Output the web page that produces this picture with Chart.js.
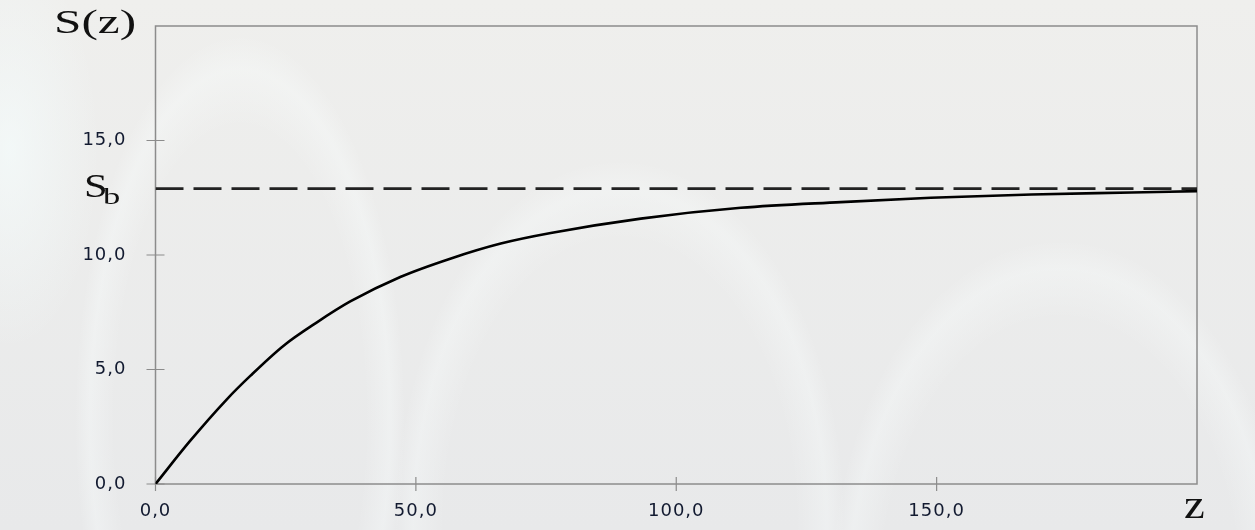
<!DOCTYPE html>
<html>
<head>
<meta charset="utf-8">
<script src="https://cdn.jsdelivr.net/npm/chart.js@4"></script>
<style>
  body {
    margin: 0;
    width: 1255px;
    height: 530px;
    overflow: hidden;
    background:
      radial-gradient(165px 385px at 240px 420px, rgba(0,0,0,0) 76%, rgba(250,254,254,0.32) 91%, rgba(0,0,0,0) 100%),
      radial-gradient(225px 365px at 620px 525px, rgba(0,0,0,0) 78%, rgba(250,254,254,0.3) 92%, rgba(0,0,0,0) 100%),
      radial-gradient(230px 360px at 1060px 600px, rgba(0,0,0,0) 78%, rgba(250,254,254,0.3) 92%, rgba(0,0,0,0) 100%),
      radial-gradient(90px 200px at 10px 150px, rgba(245,252,252,0.7), rgba(0,0,0,0)),
      linear-gradient(#efefed, #e8e9ea);
  }
  #wrap { position: absolute; left: 0; top: 0; width: 1255px; height: 530px; }
</style>
</head>
<body>
<div id="wrap"><canvas id="myChart" width="1255" height="530"></canvas></div>
<script>
// values
const zValues = [0, 6.6, 13.7, 18.2, 24.6, 31.0, 37.4, 47.0, 56.6, 66.3, 75.9, 93.2, 112.4, 131.6, 148.9, 168.2, 187.4, 200];
const sValues = [0, 1.87, 3.70, 4.72, 6.04, 7.06, 7.97, 9.04, 9.84, 10.5, 10.96, 11.59, 12.06, 12.31, 12.5, 12.64, 12.73, 12.79];
const sbZ = [0, 200];
const sbValue = 12.9;
const xTicks = [0, 50, 100, 150];
const yTicks = [0, 5, 10, 15];

const axisGray = '#8c8c8c';
const labelColor = '#121a30';

function fmt(v) {
  return Number(v).toFixed(1).replace('.', ',');
}

// frame, crossing tick marks and the S(z), Sb, z labels
const decorPlugin = {
  id: 'decor',
  beforeDraw(chart) {
    chart.ctx.letterSpacing = '1px';
  },
  beforeDatasetsDraw(chart) {
    const ctx = chart.ctx;
    const a = chart.chartArea;
    const xs = chart.scales.x;
    const ys = chart.scales.y;
    ctx.save();
    ctx.strokeStyle = axisGray;
    ctx.lineWidth = 1.5;
    ctx.strokeRect(a.left, a.top, a.right - a.left, a.bottom - a.top);
    ctx.lineWidth = 1.2;
    ctx.beginPath();
    xTicks.forEach((v) => {
      const px = xs.getPixelForValue(v);
      ctx.moveTo(px, a.bottom - 7);
      ctx.lineTo(px, a.bottom + 7);
    });
    yTicks.forEach((v) => {
      const py = ys.getPixelForValue(v);
      ctx.moveTo(a.left - 9, py);
      ctx.lineTo(a.left + 9, py);
    });
    ctx.stroke();
    ctx.restore();
  },
  afterDraw(chart) {
    const ctx = chart.ctx;
    const xs = chart.scales.x;
    const ys = chart.scales.y;
    ctx.save();
    ctx.letterSpacing = '0px';
    ctx.fillStyle = '#111111';
    ctx.textBaseline = 'alphabetic';

    // S(z)
    ctx.save();
    ctx.translate(54, 33);
    ctx.scale(1.45, 1);
    ctx.font = '34px "Liberation Serif"';
    ctx.fillText('S(z)', 0, 0);
    ctx.restore();

    // S_b at the asymptote value
    const py = ys.getPixelForValue(sbValue);
    ctx.save();
    ctx.translate(84, py + 8);
    ctx.scale(1.25, 1);
    ctx.font = '34px "Liberation Serif"';
    ctx.fillText('S', 0, 0);
    ctx.restore();
    ctx.save();
    ctx.translate(103, py + 15);
    ctx.scale(1.5, 1);
    ctx.font = '23px "Liberation Serif"';
    ctx.fillText('b', 0, 0);
    ctx.restore();

    // z at the end of the x axis
    const px = xs.getPixelForValue(xs.max);
    ctx.save();
    ctx.translate(px - 13, 518);
    ctx.scale(1.2, 1);
    ctx.font = '39px "Liberation Serif"';
    ctx.fillText('z', 0, 0);
    ctx.restore();

    ctx.restore();
  }
};

const tickFont = { family: '"DejaVu Sans"', size: 18 };

const config = {
  type: 'line',
  data: {
    datasets: [
      {
        label: 'S(z)',
        data: zValues.map((z, i) => ({ x: z, y: sValues[i] })),
        borderColor: '#000000',
        borderWidth: 2.6,
        cubicInterpolationMode: 'monotone',
        pointRadius: 0,
        fill: false
      },
      {
        label: 'Sb',
        data: sbZ.map((z) => ({ x: z, y: sbValue })),
        borderColor: '#222222',
        borderWidth: 2.8,
        borderDash: [28, 10],
        pointRadius: 0,
        fill: false
      }
    ]
  },
  options: {
    responsive: false,
    animation: false,
    layout: { padding: { top: 26, right: 58, left: 0, bottom: 0 } },
    plugins: {
      legend: { display: false },
      tooltip: { enabled: false }
    },
    scales: {
      x: {
        type: 'linear',
        min: 0,
        max: 200,
        grid: { display: false },
        border: { display: false },
        afterBuildTicks: (scale) => { scale.ticks = xTicks.map((v) => ({ value: v })); },
        afterFit: (scale) => {
          scale.height = 46;
          scale.paddingLeft = 0;
          scale.paddingRight = 0;
        },
        ticks: {
          font: tickFont,
          color: labelColor,
          padding: 9,
          maxRotation: 0,
          callback: (v) => fmt(v)
        }
      },
      y: {
        type: 'linear',
        min: 0,
        max: 20,
        grid: { display: false },
        border: { display: false },
        afterBuildTicks: (scale) => { scale.ticks = yTicks.map((v) => ({ value: v })); },
        afterFit: (scale) => {
          scale.width = 155.5;
          scale.paddingTop = 0;
          scale.paddingBottom = 0;
        },
        ticks: {
          font: tickFont,
          color: labelColor,
          padding: 21,
          callback: (v) => fmt(v)
        }
      }
    }
  },
  plugins: [decorPlugin]
};

document.addEventListener('DOMContentLoaded', () => {
  const chartTarget = document.querySelector('#myChart');
  new Chart(chartTarget, config);
});
</script>
</body>
</html>
